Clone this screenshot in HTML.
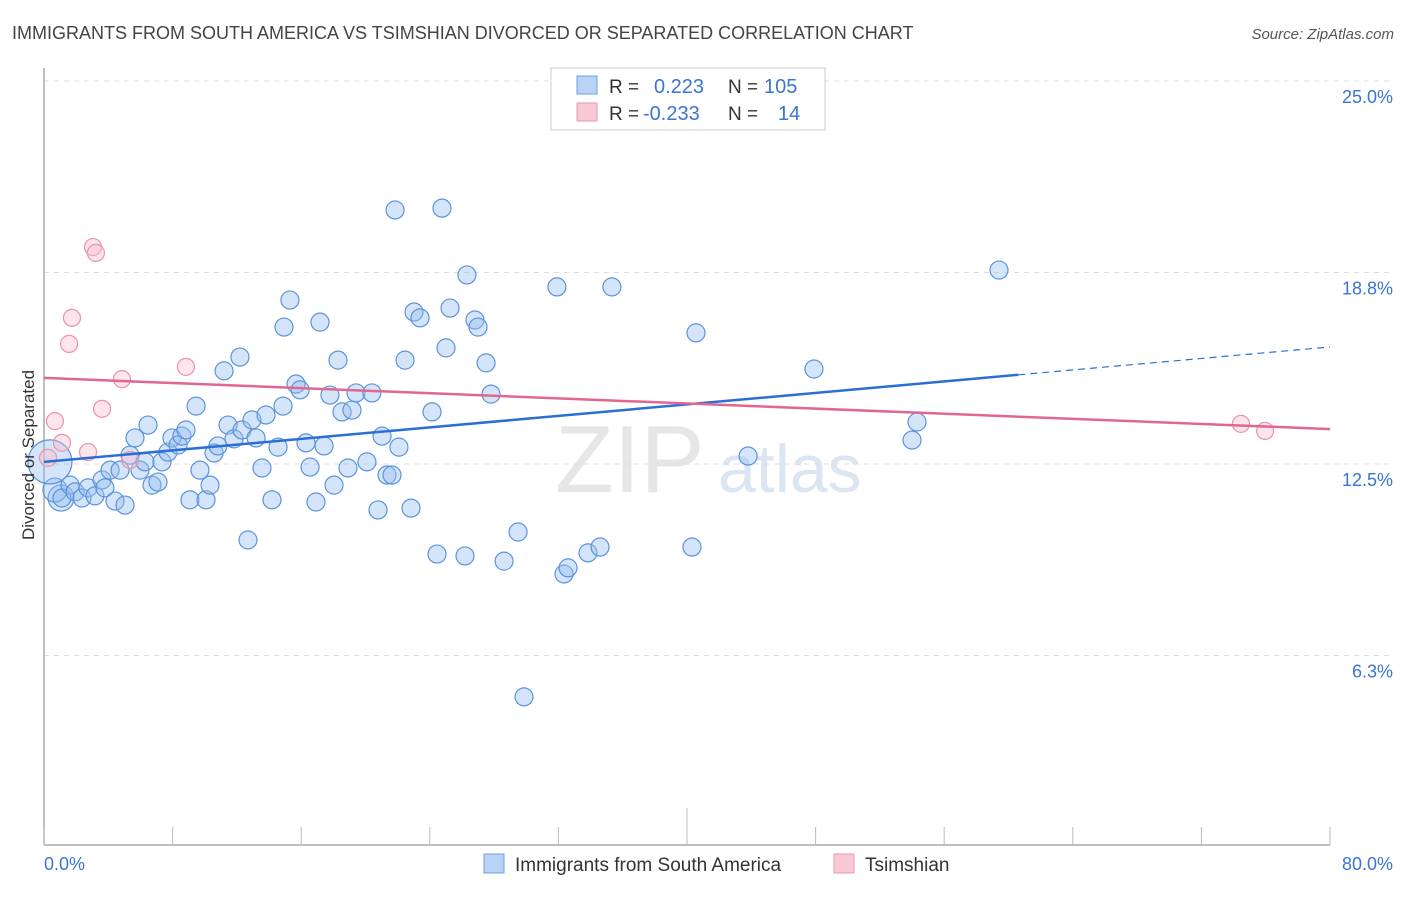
<!DOCTYPE html>
<html><head><meta charset="utf-8"><style>
body{margin:0;background:#fff;font-family:"Liberation Sans",sans-serif;}
svg text{font-family:"Liberation Sans",sans-serif;}
</style></head><body>
<svg id="chart" width="1406" height="892" viewBox="0 0 1406 892" xmlns="http://www.w3.org/2000/svg">
<text x="12" y="39" font-size="18" fill="#444">IMMIGRANTS FROM SOUTH AMERICA VS TSIMSHIAN DIVORCED OR SEPARATED CORRELATION CHART</text>
<text x="1394" y="39" font-size="15" fill="#555" text-anchor="end" font-style="italic">Source: ZipAtlas.com</text>
<text x="555" y="492" font-size="96" fill="#e6e6e6" font-family="Liberation Serif">ZIP</text>
<text x="718" y="492" font-size="68" fill="#dce6f3">atlas</text>
<g id="grid"></g>
<g id="axes"></g>
<g id="pts"></g>
<g id="trend"></g>
<text transform="translate(34,455) rotate(-90)" font-size="17" fill="#333" text-anchor="middle">Divorced or Separated</text>
<g>
<rect x="551" y="68" width="274" height="62" fill="#fff" stroke="#ccc"/>
<rect x="577" y="76" width="20" height="18" fill="#b8d3f5" stroke="#6f9fdc"/>
<rect x="577" y="103" width="20" height="18" fill="#f9c8d5" stroke="#e89ab0"/>
<text x="609" y="93" font-size="19" fill="#333">R =</text>
<text x="654" y="93" font-size="20" fill="#3a75d0">0.223</text>
<text x="728" y="93" font-size="19" fill="#333">N =</text>
<text x="764" y="93" font-size="20" fill="#3a75d0">105</text>
<text x="609" y="120" font-size="19" fill="#333">R =</text>
<text x="643" y="120" font-size="20" fill="#3a75d0">-0.233</text>
<text x="728" y="120" font-size="19" fill="#333">N =</text>
<text x="778" y="120" font-size="20" fill="#3a75d0">14</text>
</g>
<g>
<rect x="484" y="854" width="20" height="19" fill="#b8d3f5" stroke="#6f9fdc"/>
<text x="515" y="871" font-size="19" fill="#333">Immigrants from South America</text>
<rect x="834" y="854" width="20" height="19" fill="#f9c8d5" stroke="#e89ab0"/>
<text x="865" y="871" font-size="19" fill="#333">Tsimshian</text>
</g>
</svg>
<script>
const blueX=[1.06,0.68,0.37,1.12,1.62,1.93,2.36,2.74,3.17,3.61,3.79,4.42,4.11,4.73,5.04,5.35,5.66,5.97,6.28,6.47,6.72,7.09,7.34,7.71,7.96,8.34,8.58,8.83,9.08,9.46,9.70,10.08,10.33,10.58,10.82,11.2,11.45,11.82,12.19,12.32,12.69,12.94,13.19,13.56,13.81,14.18,14.56,14.87,14.93,15.30,15.68,15.93,16.30,16.55,16.92,17.17,17.42,17.79,18.04,18.29,18.54,18.91,19.16,19.41,20.09,20.40,20.78,21.03,21.34,21.65,21.84,22.08,22.46,22.83,23.02,23.39,24.14,24.45,24.76,25.01,25.26,26.19,26.31,26.81,27.0,27.5,27.81,28.62,29.49,29.86,31.91,32.35,32.6,33.84,34.59,35.33,40.31,40.56,43.8,47.9,54.0,54.31,59.41];
const blueY=[11.39,11.65,12.57,11.39,11.81,11.59,11.39,11.72,11.46,11.98,11.72,11.29,12.30,12.30,11.16,12.79,13.35,12.30,12.57,13.77,11.81,11.91,12.57,12.89,13.35,13.12,13.41,13.61,11.33,14.39,12.30,11.33,11.81,12.86,13.09,15.54,13.77,13.32,15.99,13.61,10.02,13.94,13.35,12.37,14.10,11.33,13.05,14.39,16.97,17.85,15.11,14.92,13.19,12.40,11.26,17.13,13.09,14.75,11.81,15.89,14.20,12.37,14.26,14.82,12.57,14.82,11.0,13.41,12.14,12.14,20.79,13.05,15.89,11.06,17.46,17.27,14.20,9.56,20.85,16.29,17.59,9.50,18.67,17.2,16.97,15.80,14.78,9.33,10.28,4.90,18.28,8.91,9.11,9.60,9.79,18.28,9.79,16.78,12.76,15.60,13.28,13.87,18.83];
const blueR=[13,12,22,9,9,9,9,9,9,9,9,9,9,9,9,9,9,9,9,9,9,9,9,9,9,9,9,9,9,9,9,9,9,9,9,9,9,9,9,9,9,9,9,9,9,9,9,9,9,9,9,9,9,9,9,9,9,9,9,9,9,9,9,9,9,9,9,9,9,9,9,9,9,9,9,9,9,9,9,9,9,9,9,9,9,9,9,9,9,9,9,9,9,9,9,9,9,9,9,9,9,9,9];
const pinkX=[3.05,3.23,1.74,1.56,8.83,4.85,3.61,0.68,1.12,2.74,5.35,0.25,74.46,75.96];
const pinkY=[19.58,19.39,17.27,16.42,15.67,15.27,14.30,13.90,13.19,12.89,12.63,12.70,13.81,13.58];
const blueTrend=[12.57,16.32];
const pinkTrend=[15.31,13.64];
const yTicks=[25.0,18.8,12.5,6.3];
const yTickLabels=["25.0%","18.8%","12.5%","6.3%"];
const xTickLabels=["0.0%","80.0%"];
const NS="http://www.w3.org/2000/svg";
const X0=44,X1=1330,Y0=847,YT=81;
const xs=v=>X0+(v/80)*(X1-X0);
const ys=v=>Y0-(v/25)*(Y0-YT);
function mk(tag,at,parent){const e=document.createElementNS(NS,tag);for(const k in at)e.setAttribute(k,at[k]);parent.appendChild(e);return e;}
const grid=document.getElementById('grid'),axes=document.getElementById('axes'),pts=document.getElementById('pts'),trend=document.getElementById('trend');
yTicks.forEach((t,i)=>{
  const y=ys(t===18.8?18.75:t===6.3?6.25:t);
  const l=mk('line',{x1:X0,x2:1394,y1:y,y2:y,stroke:'#ddd','stroke-dasharray':'5,5'},grid);
  
  
  const tx=mk('text',{x:1393,y:y+22,'font-size':18,fill:'#3a75d0','text-anchor':'end'},axes);
  tx.textContent=yTickLabels[i];
  
  
});
const ax=mk('line',{x1:X0,x2:X1,y1:845,y2:845,stroke:'#aaa','stroke-width':1.5},axes);


const ay=mk('line',{x1:X0,x2:X0,y1:68,y2:845,stroke:'#aaa','stroke-width':1.5},axes);


for(let i=0;i<=10;i++){
  const x=xs(i*8);
  const tk=mk('line',{x1:x,x2:x,y1:i===5?808:827,y2:845,stroke:'#bbb'},axes);
  
  
}
const xl0=mk('text',{x:44,y:870,'font-size':18,fill:'#3a75d0'},axes);xl0.textContent=xTickLabels[0];


const xl1=mk('text',{x:1393,y:870,'font-size':18,fill:'#3a75d0','text-anchor':'end'},axes);xl1.textContent=xTickLabels[1];


blueX.forEach((v,i)=>{
  const c=mk('circle',{cx:xs(v),cy:ys(blueY[i]),r:blueR[i]||9,fill:'rgba(150,190,240,0.4)',stroke:'#5b93db','stroke-width':1.2},pts);
  
  
});
pinkX.forEach((v,i)=>{
  const c=mk('circle',{cx:xs(v),cy:ys(pinkY[i]),r:8.5,fill:'rgba(248,190,205,0.4)',stroke:'#ea93ab','stroke-width':1.2},pts);
  
  
});
const bx=Math.max(...blueX)+1.2;
const bAt=x=>blueTrend[0]+(blueTrend[1]-blueTrend[0])*x/80;
const b1=mk('line',{x1:xs(0),y1:ys(bAt(0)),x2:xs(bx),y2:ys(bAt(bx)),stroke:'#2a6fd6','stroke-width':2.5},trend);


const b2=mk('line',{x1:xs(bx),y1:ys(bAt(bx)),x2:xs(80),y2:ys(bAt(80)),stroke:'#2a6fd6','stroke-width':1.2,'stroke-dasharray':'7,5'},trend);


const p1=mk('line',{x1:xs(0),y1:ys(pinkTrend[0]),x2:xs(80),y2:ys(pinkTrend[1]),stroke:'#e2668e','stroke-width':2.5},trend);


</script>
</body></html>
